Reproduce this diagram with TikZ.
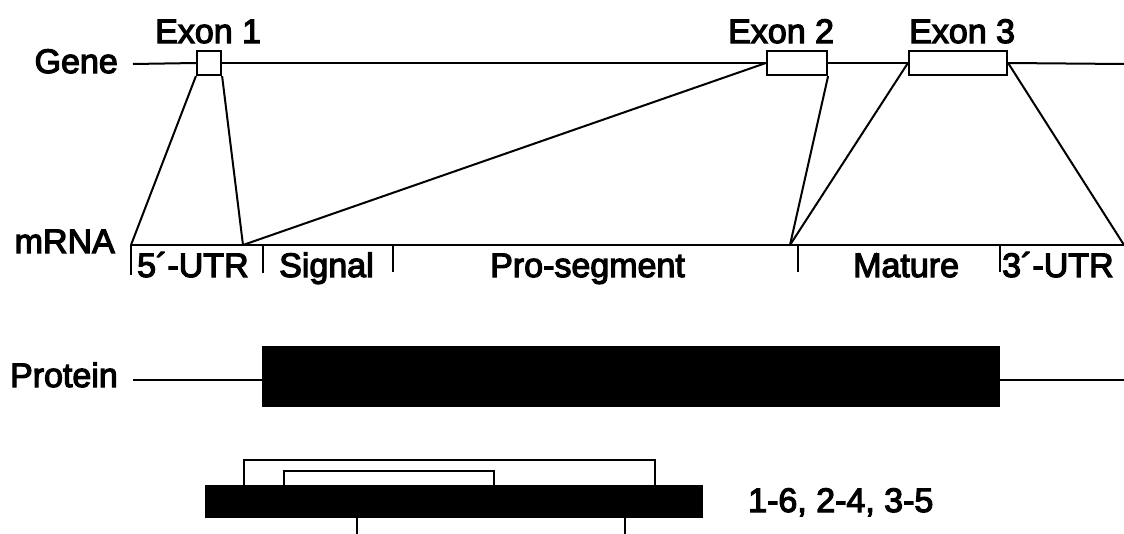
\documentclass[tikz,border=0pt]{standalone}
\usepackage{fontspec}
\setmainfont{Liberation Sans}
\newfontfamily\lblfont{Liberation Sans}[FakeBold=3.5]
\begin{document}
\begin{tikzpicture}[x=1pt,y=-1pt,
  lbl/.style={inner sep=0pt,font=\lblfont\fontsize{34}{40}\selectfont},
  ln/.style={line width=2pt},
  exonbox/.style={draw,fill=white,line width=2.2pt,inner sep=0pt,minimum height=24pt},
  blackbar/.style={fill=black,inner sep=0pt}]
\useasboundingbox (0,0) rectangle (1124,533);
\clip (0,0) rectangle (1124,533);

% gene row
\coordinate (g0) at (133,64);
\coordinate (g1) at (1124,64);
\node[exonbox,minimum width=24pt] (ex1) at (209,63) {};
\node[exonbox,minimum width=60pt] (ex2) at (797,63) {};
\node[exonbox,minimum width=98pt] (ex3) at (958,63) {};
\draw[ln] (g0) -- (ex1.west);
\draw[ln] (ex1.east) -- (ex2.west);
\draw[ln] (ex2.east) -- (ex3.west);
\draw[ln] (ex3.east) -- (g1);
\node[lbl,anchor=base east] (tgene) at (118,73) {Gene};
\node[lbl,anchor=base west] (tex1) at (155,43) {Exon 1};
\node[lbl,anchor=base west] (tex2) at (728,43) {Exon 2};
\node[lbl,anchor=base west] (tex3) at (909,43) {Exon 3};

% mRNA row
\coordinate (m0) at (131,245);
\coordinate (m1) at (243,245);
\coordinate (m2) at (790,245);
\coordinate (m3) at (1124,245);
\draw[ln] (m0) -- (m3);
\node[lbl,anchor=base east] (tmrna) at (115,253) {mRNA};

% splicing connectors
\draw[ln] (ex1.south west) -- (m0);
\draw[ln] (ex1.south east) -- (m1);
\draw[ln] (m1) -- (ex2.west);
\draw[ln] (ex2.south east) -- (m2);
\draw[ln] (ex3.west) -- (m2);
\draw[ln] (ex3.east) -- (m3);

% segment boundaries
\coordinate (k0) at (131,245); \coordinate (k0b) at (131,275);
\coordinate (k1) at (263,245); \coordinate (k1b) at (263,273);
\coordinate (k2) at (393,245); \coordinate (k2b) at (393,272);
\coordinate (k3) at (798,245); \coordinate (k3b) at (798,272);
\coordinate (k4) at (1000,245); \coordinate (k4b) at (1000,272);
\foreach \k in {k0,k1,k2,k3,k4} \draw[ln] (\k) -- (\k b);

\node[lbl,anchor=base west] (utr5) at (137,277) {5´-UTR};
\node[lbl,anchor=base west] (sig) at (279,277) {Signal};
\node[lbl,anchor=base west] (pro) at (490,277) {Pro-segment};
\node[lbl,anchor=base west] (mat) at (853,277) {Mature};
\node[lbl,anchor=base west] (utr3) at (1002,277) {3´-UTR};

% protein row
\node[blackbar,minimum width=738pt,minimum height=61pt] (prot) at (631,376.5) {};
\coordinate (p0) at (133,380);
\coordinate (p1) at (1124,380);
\draw[ln] (p0) -- (prot.west |- p0);
\draw[ln] (prot.east |- p1) -- (p1);
\node[lbl,anchor=base east] (tprot) at (118,387) {Protein};

% disulfide pattern
\node[blackbar,minimum width=498pt,minimum height=33pt] (cys) at (454,501) {};
\coordinate (c1) at (244,485); \coordinate (c6) at (655,485);
\coordinate (c2) at (284,485); \coordinate (c4) at (494,485);
\coordinate (c3) at (357,517); \coordinate (c5) at (625,517);
\draw[ln] (c1) -- ++(0,-25) -| (c6);
\draw[ln] (c2) -- ++(0,-14) -| (c4);
\draw[ln] (c3) -- ++(0,25) -| (c5);
\node[lbl,anchor=base west] (tbond) at (748,512) {1-6, 2-4, 3-5};
\end{tikzpicture}
\end{document}
